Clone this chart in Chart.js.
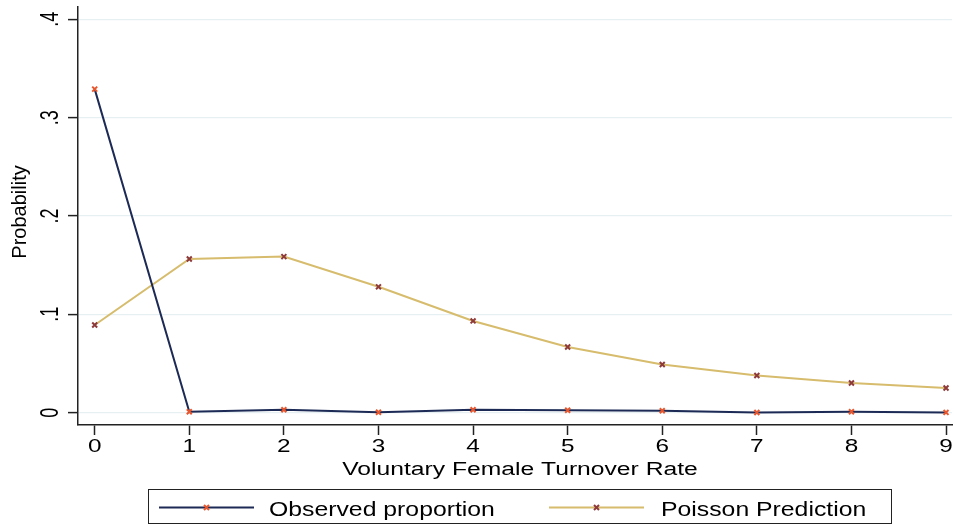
<!DOCTYPE html>
<html>
<head>
<meta charset="utf-8">
<script src="https://cdn.jsdelivr.net/npm/chart.js@4.4.1/dist/chart.umd.min.js"></script>
<style>
  html, body { margin: 0; padding: 0; background: #ffffff; }
  #wrap { width: 954px; height: 525px; }
</style>
</head>
<body>
<div id="wrap"><canvas id="c" width="954" height="525"></canvas></div>
<script>
// Turnover counts and their probabilities
const turnoverRates = [0, 1, 2, 3, 4, 5, 6, 7, 8, 9];
const observedProportion = [0.329, 0.001, 0.003, 0.0005, 0.003, 0.0025, 0.002, 0.0002, 0.001, 0.0003];
const poissonPrediction = [0.0892, 0.1563, 0.1587, 0.128, 0.0933, 0.0668, 0.049, 0.0378, 0.0302, 0.0251];
const yTickValues = [0, 0.1, 0.2, 0.3, 0.4];
const yTickLabels = ['0', '.1', '.2', '.3', '.4'];
const xTickValues = turnoverRates;
const xTickLabels = turnoverRates.map(String);
const xTitle = 'Voluntary Female Turnover Rate';
const yTitle = 'Probability';

const FONT = '"Liberation Sans", Arial, Helvetica, sans-serif';

// Draws a string with a horizontal widening factor (wide Helvetica-style lettering)
function wideText(ctx, text, x, y, size, sx, align, rotate) {
  ctx.save();
  ctx.translate(x, y);
  ctx.scale(sx, 1);
  if (rotate) ctx.rotate(-Math.PI / 2);
  ctx.font = size + 'px ' + FONT;
  ctx.fillStyle = '#000';
  ctx.textAlign = align;
  ctx.textBaseline = 'alphabetic';
  ctx.fillText(text, 0, 0);
  ctx.restore();
}

// Axis tick labels and titles, positioned from the chart's scales
const axisText = {
  id: 'axisText',
  afterDraw(chart) {
    const ctx = chart.ctx;
    const xs = chart.scales.x, ys = chart.scales.y;
    const area = chart.chartArea;
    xTickValues.forEach((v, i) => {
      wideText(ctx, xTickLabels[i], xs.getPixelForValue(v), area.bottom + 27, 19, 1.28, 'center', false);
    });
    wideText(ctx, xTitle, (area.left + area.right) / 2 + 5, area.bottom + 49.5, 18, 1.37, 'center', false);
    yTickValues.forEach((v, i) => {
      wideText(ctx, yTickLabels[i], area.left - 20, ys.getPixelForValue(v), 18, 1.4, 'center', true);
    });
    wideText(ctx, yTitle, 26, (area.top + area.bottom) / 2 - 4, 20, 1.0, 'center', true);
  }
};

// Boxed legend below the plot
const boxedLegend = {
  id: 'boxedLegend',
  afterDraw(chart) {
    const ctx = chart.ctx;
    const box = { x: 148.5, y: 489.5, w: 743, h: 34 };
    const cy = 507.5;
    ctx.save();
    ctx.strokeStyle = '#222';
    ctx.lineWidth = 1;
    ctx.strokeRect(box.x, box.y, box.w, box.h);
    const slots = [{ x0: 159, x1: 254, tx: 269 }, { x0: 549, x1: 644, tx: 661 }];
    chart.data.datasets.forEach((ds, i) => {
      const s = slots[i];
      ctx.strokeStyle = ds.borderColor;
      ctx.lineWidth = ds.borderWidth;
      ctx.beginPath();
      ctx.moveTo(s.x0, cy);
      ctx.lineTo(s.x1, cy);
      ctx.stroke();
      const mx = (s.x0 + s.x1) / 2, r = 2.5;
      ctx.strokeStyle = ds.pointBorderColor;
      ctx.lineWidth = 2;
      ctx.beginPath();
      ctx.moveTo(mx - r, cy - r); ctx.lineTo(mx + r, cy + r);
      ctx.moveTo(mx - r, cy + r); ctx.lineTo(mx + r, cy - r);
      ctx.stroke();
      wideText(ctx, ds.label, s.tx, 516, 21, 1.18, 'left', false);
    });
    ctx.restore();
  }
};

new Chart(document.getElementById('c'), {
  type: 'line',
  data: {
    datasets: [
      {
        label: 'Observed proportion',
        data: turnoverRates.map((x, i) => ({ x, y: observedProportion[i] })),
        borderColor: '#1c2a55',
        borderWidth: 2,
        pointStyle: 'crossRot',
        pointRadius: 3.5,
        pointBorderWidth: 2,
        pointBorderColor: '#e8562e',
        pointBackgroundColor: '#e8562e',
        tension: 0
      },
      {
        label: 'Poisson Prediction',
        data: turnoverRates.map((x, i) => ({ x, y: poissonPrediction[i] })),
        borderColor: '#d6bc6c',
        borderWidth: 2,
        pointStyle: 'crossRot',
        pointRadius: 3.5,
        pointBorderWidth: 2,
        pointBorderColor: '#8e3a3a',
        pointBackgroundColor: '#8e3a3a',
        tension: 0
      }
    ]
  },
  options: {
    responsive: false,
    animation: false,
    devicePixelRatio: 1,
    layout: { autoPadding: false, padding: { top: 7, right: 2, bottom: 0, left: 0 } },
    plugins: { legend: { display: false }, tooltip: { enabled: false } },
    scales: {
      x: {
        type: 'linear',
        min: -0.1765,
        max: 9.063,
        afterBuildTicks: s => { s.ticks = xTickValues.map(v => ({ value: v })); },
        afterFit: s => { s.height = 100; s.paddingLeft = 0; s.paddingRight = 0; },
        grid: { drawOnChartArea: false, drawTicks: true, tickLength: 10, tickColor: '#222', tickWidth: 1.5 },
        border: { display: true, color: '#222', width: 1.5 },
        ticks: { display: false },
        title: { display: false }
      },
      y: {
        type: 'linear',
        min: -0.0125,
        max: 0.4125,
        afterBuildTicks: s => { s.ticks = yTickValues.map(v => ({ value: v })); },
        afterFit: s => { s.width = 78; s.paddingTop = 0; s.paddingBottom = 0; },
        grid: { color: '#e6eff2', lineWidth: 1.2, drawTicks: true, tickLength: 10, tickColor: '#222', tickWidth: 1.5 },
        border: { display: true, color: '#222', width: 1.5 },
        ticks: { display: false },
        title: { display: false }
      }
    }
  },
  plugins: [axisText, boxedLegend]
});
</script>
</body>
</html>
